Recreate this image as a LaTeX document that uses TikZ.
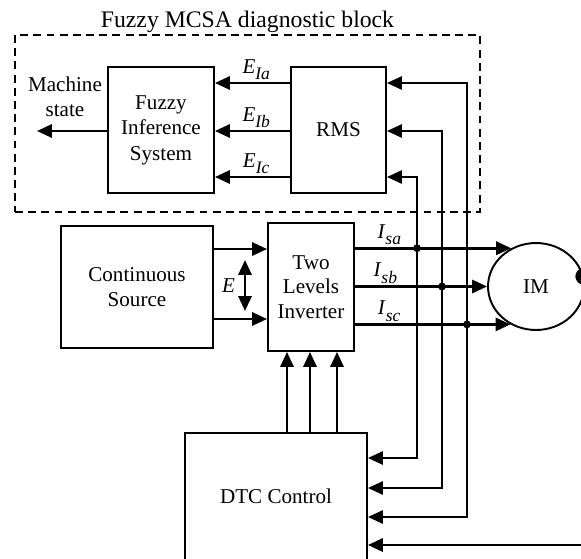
\documentclass[tikz,border=0pt]{standalone}
\usepackage{fontspec}
\setmainfont{Liberation Serif}
\usetikzlibrary{arrows.meta,positioning,shapes.geometric}

\newcommand{\sigl}[2]{\textit{#1}\raisebox{-0.3em}{\fontsize{10}{12}\selectfont\textit{#2}}}

\begin{document}
\begin{tikzpicture}[x=0.02cm, y=-0.02cm,
  blk/.style={draw, line width=1.1pt, align=center, inner sep=1pt,
              font=\fontsize{12}{14.5}\selectfont},
  txt/.style={align=center, inner sep=1pt, font=\fontsize{12}{14.5}\selectfont},
  sgl/.style={line width=1.5pt},
  wire/.style={line width=1.2pt},
  junc/.style={circle, draw, fill=black, inner sep=0pt, minimum size=4pt},
  >={Stealth[length=8.5pt, width=7.5pt, inset=0pt]}
]
  \useasboundingbox (0,0) rectangle (581,558);
  \clip (0,0) rectangle (581,558);

  % diagnostic block
  \node[draw, dash pattern=on 4.5pt off 3pt, line width=0.9pt,
        minimum width=9.3cm, minimum height=3.54cm] (diag) at (247.5,123.5) {};
  \node[txt, font=\fontsize{13.5}{16}\selectfont] (title) at (247.5,22) {Fuzzy MCSA diagnostic block};
  \node[blk, minimum width=2.12cm, minimum height=2.52cm] (fis) at (161,130) {Fuzzy\\Inference\\System};
  \node[blk, minimum width=1.9cm, minimum height=2.52cm] (rms) at (338.5,130) {RMS};
  \node[txt] (ms) at (65,97) {Machine\\state};

  \coordinate (ya) at (0,83);
  \coordinate (yb) at (0,131);
  \coordinate (yc) at (0,177);
  \coordinate (out) at (37,131);

  \draw[sgl,->] (rms.west |- ya) -- node[txt, above, pos=0.45] {\sigl{E}{Ia}} (fis.east |- ya);
  \draw[sgl,->] (rms.west |- yb) -- node[txt, above, pos=0.45] {\sigl{E}{Ib}} (fis.east |- yb);
  \draw[sgl,->] (rms.west |- yc) -- node[txt, above, pos=0.45] {\sigl{E}{Ic}} (fis.east |- yc);
  \draw[sgl,->] (fis.west |- yb) -- (out);

  % power part
  \node[blk, minimum width=3.04cm, minimum height=2.44cm] (src) at (137,287) {Continuous\\Source};
  \node[blk, minimum width=1.72cm, minimum height=2.56cm, font=\fontsize{12}{14}\selectfont] (inv) at (311,287) {Two\\Levels\\Inverter};
  \node[blk, ellipse, minimum width=1.92cm, minimum height=1.74cm] (im) at (536,286.5) {IM};
  \node[blk, minimum width=3.64cm, minimum height=2.54cm] (dtc) at (276,496.5) {DTC Control};

  \coordinate (pp) at (0,249);
  \coordinate (pn) at (0,319);
  \coordinate (e1) at (245,260);
  \coordinate (e2) at (245,311);
  \draw[sgl,->] (src.east |- pp) -- (inv.west |- pp);
  \draw[sgl,->] (src.east |- pn) -- (inv.west |- pn);
  \draw[sgl,<->] (e1) -- node[txt, left=4pt] {\textit{E}} (e2);

  \draw[sgl,->] (inv.east |- im.123) -- node[txt, above, pos=0.22] {\sigl{I}{sa}} (im.123);
  \draw[sgl,->] (inv.east |- im.west) -- node[txt, above, pos=0.23] {\sigl{I}{sb}} (im.west);
  \draw[sgl,->] (inv.east |- im.236) -- node[txt, above, pos=0.22] {\sigl{I}{sc}} (im.236);

  % current sensing
  \coordinate (ka) at (467,517);
  \coordinate (kb) at (442,488);
  \coordinate (kc) at (417,458);
  \draw[wire,<->] (rms.east |- ya) -| (ka) -- (dtc.east |- ka);
  \draw[wire,<->] (rms.east |- yb) -| (kb) -- (dtc.east |- kb);
  \draw[wire,<->] (rms.east |- yc) -| (kc) -- (dtc.east |- kc);
  \node[junc] (ja) at (kc |- im.123) {};
  \node[junc] (jb) at (kb |- im.west) {};
  \node[junc] (jc) at (ka |- im.236) {};

  % switching signals
  \foreach \gx in {287,310,337} {
    \coordinate (g) at (\gx,0);
    \draw[sgl,->] (dtc.north -| g) -- (inv.south -| g);
  }

  % speed feedback
  \node[junc, minimum size=9pt] (enc) at (im.12) {};
  \coordinate (fb) at (600,545);
  \draw[sgl,->] (enc) -| (fb) -- (dtc.east |- fb);
\end{tikzpicture}
\end{document}
